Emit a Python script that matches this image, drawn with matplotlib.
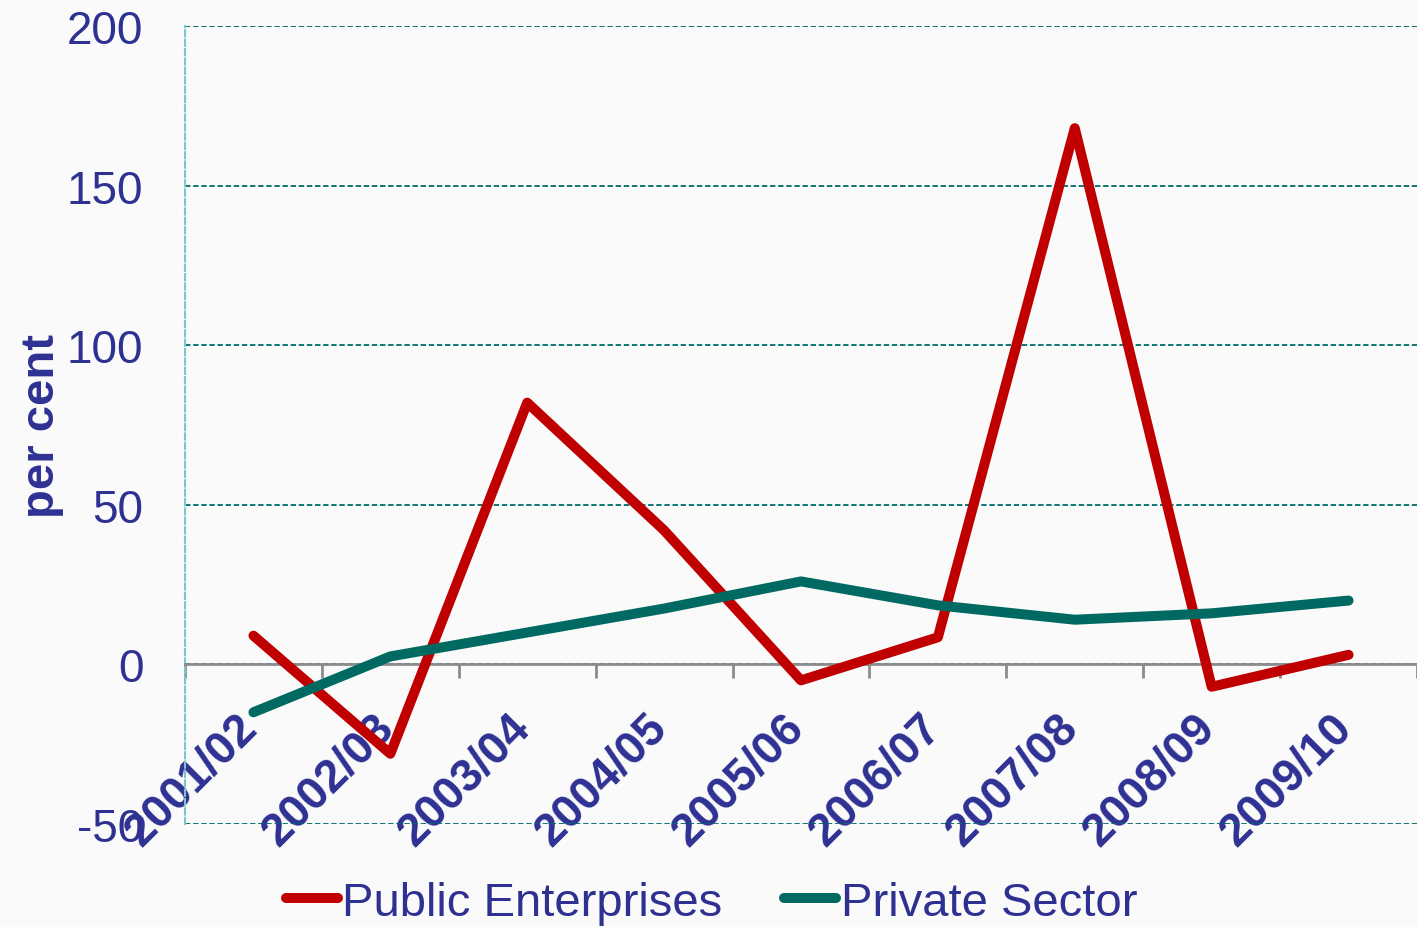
import numpy as np
import matplotlib
matplotlib.use("Agg")
import matplotlib.pyplot as plt
from matplotlib.transforms import ScaledTranslation

# --- data ---
years = ["2001/02", "2002/03", "2003/04", "2004/05", "2005/06",
         "2006/07", "2007/08", "2008/09", "2009/10"]
public_enterprises = [9, -28, 82, 42, -5, 8.5, 168, -7, 3]
private_sector = [-15, 2.5, 10, 17.5, 26, 18.5, 14, 16, 20]
yticks = [-50, 0, 50, 100, 150, 200]

navy = "#2e3192"
red = "#c00000"
teal = "#006a62"
bg = "#fafafa"

plt.rcParams['font.family'] = ['Liberation Sans', 'DejaVu Sans']
plt.rcParams['axes.unicode_minus'] = False

fig = plt.figure(figsize=(14.17, 9.28), dpi=100, facecolor=bg)
ax = fig.add_axes([185 / 1417, 1 - 825 / 928, 1 - 185 / 1417, (825 - 27) / 928])
ax.set_facecolor(bg)

x = np.arange(len(years))
ax.plot(x, public_enterprises, color=red, lw=7.2, solid_capstyle='round',
        solid_joinstyle='round', zorder=4, label="Public Enterprises")
ax.plot(x, private_sector, color=teal, lw=7.2, solid_capstyle='round',
        solid_joinstyle='round', zorder=4, label="Private Sector")

ax.set_xlim(-0.5, len(years) - 0.5)
ax.set_ylim(-50, 200)
ax.set_yticks(yticks)
ax.tick_params(axis='y', length=0, pad=30, labelsize=33, labelcolor=navy)

# horizontal grid
ax.set_axisbelow(True)
ax.yaxis.grid(True, linestyle=(0, (3, 1.5)), color="#006b6b", lw=1.3)
ax.xaxis.grid(False)

# spines
ax.spines['top'].set_visible(False)
ax.spines['right'].set_visible(False)
ax.spines['left'].set_linestyle((0, (3, 1.5)))
ax.spines['left'].set_color("#7cc6c6")
ax.spines['left'].set_linewidth(1.5)
ax.spines['bottom'].set_position(('data', 0))
ax.spines['bottom'].set_color("#8c8c8c")
ax.spines['bottom'].set_linewidth(2)
ax.spines['bottom'].set_zorder(3)

# category boundaries as major ticks, labels on minor ticks at centres
ax.set_xticks(np.arange(-0.5, len(years)))
ax.set_xticklabels([])
ax.tick_params(axis='x', which='major', direction='out', length=10,
               width=2, color="#8c8c8c")
ax.set_xticks(x, minor=True)
ax.set_xticklabels(years, minor=True, rotation=45, ha='right', va='top',
                   fontsize=33, fontweight='bold', color=navy)
ax.tick_params(axis='x', which='minor', length=0, pad=29)
offset = ScaledTranslation(12 / 100, 0, fig.dpi_scale_trans)
for lab in ax.xaxis.get_minorticklabels():
    lab.set_transform(lab.get_transform() + offset)

ax.set_ylabel("per cent", fontsize=34, fontweight='bold', color=navy)
ax.yaxis.set_label_coords(-0.098, 0.5)

fig.legend(loc='center', bbox_to_anchor=(0.502, 1 - 904 / 928), ncol=2,
           frameon=False, fontsize=34, handlelength=1.1, handletextpad=0.1,
           columnspacing=1.3, labelcolor=navy)

fig.savefig("out.png", dpi=100, facecolor=bg)
